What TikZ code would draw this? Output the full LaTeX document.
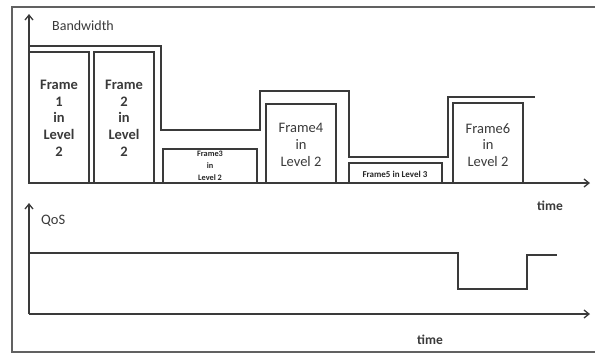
\documentclass[tikz,border=0pt]{standalone}
\usepackage{fontspec}
\setmainfont{Carlito}
\usetikzlibrary{arrows.meta}
\definecolor{ink}{HTML}{3A3A3A}
\tikzset{
  ln/.style={draw=ink, line width=1.5pt},
  axis/.style={draw=ink, line width=1.5pt, -{Straight Barb[length=5pt,width=8pt,line width=1.3pt]}},
  fbox/.style={draw=ink, line width=1.5pt, inner sep=0pt},
  lbl/.style={text=ink, inner sep=0pt, anchor=west},
  bigb/.style={text=ink, font=\fontsize{14.5}{16.7}\selectfont\bfseries, align=center, inner sep=0pt},
  bigr/.style={text=ink, font=\fontsize{14.5}{16.7}\selectfont, align=center, inner sep=0pt},
  smallb/.style={text=black!85, font=\fontsize{8.3}{12}\selectfont\bfseries, align=center, inner sep=0pt},
}
\begin{document}
\begin{tikzpicture}[x=1pt,y=-1pt]
\useasboundingbox (0,0) rectangle (595,354);
% outer frame
\draw[draw=ink!80, line width=1.2pt] (600,7) -- (12,7) -- (12,352) -- (600,352);
% ---------- Bandwidth plot ----------
\coordinate (bo) at (29,183);
\coordinate (bt) at (29,14);
\coordinate (bx) at (590,183);
\draw[axis] (bo) -- (bt);
\draw[axis] (bo) -- (bx);
\node[lbl, font=\fontsize{14}{16}\selectfont] (bw) at (52,26) {Bandwidth};
\node[lbl, font=\fontsize{13.5}{16}\selectfont\bfseries] (t1) at (537,206) {time};
% envelope
\draw[ln] (29,46) -- (161,46) -- (161,130) -- (260,130) -- (260,91) -- (349,91) -- (349,157) -- (448,157) -- (448,97) -- (535,97);
% frames
\draw[fbox] (29,52) rectangle (89,183);
\node[bigb] (f1) at (59,118) {Frame\\1\\in\\Level\\2};
\draw[fbox] (94,52) rectangle (154,183);
\node[bigb] (f2) at (124,118) {Frame\\2\\in\\Level\\2};
\draw[fbox] (163,149) rectangle (257,183);
\node[smallb] (f3) at (210,166) {Frame3\\in\\Level 2};
\draw[fbox] (266,104) rectangle (336,183);
\node[bigr] (f4) at (301,145) {Frame4\\in\\Level 2};
\draw[fbox] (349,163) rectangle (442,183);
\node[smallb, font=\fontsize{9}{11}\selectfont\bfseries] (f5) at (395,174) {Frame5 in Level 3};
\draw[fbox] (453,103) rectangle (523,183);
\node[bigr] (f6) at (488,145) {Frame6\\in\\Level 2};
% ---------- QoS plot ----------
\coordinate (qo) at (29,314);
\coordinate (qt) at (29,203);
\coordinate (qx) at (590,314);
\draw[axis] (qo) -- (qt);
\draw[axis] (qo) -- (qx);
\node[lbl, font=\fontsize{14.5}{16}\selectfont] (qos) at (41,221) {QoS};
\node[lbl, font=\fontsize{13.5}{16}\selectfont\bfseries] (t2) at (417,340) {time};
\draw[ln] (29,253) -- (458,253) -- (458,289) -- (527,289) -- (527,255) -- (557,255);
\end{tikzpicture}
\end{document}
